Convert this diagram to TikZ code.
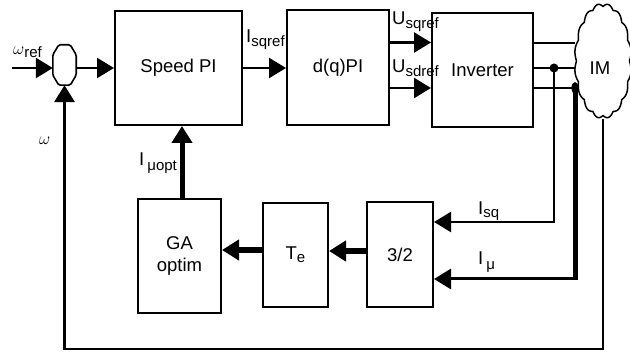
\documentclass[tikz,border=0pt]{standalone}
\usepackage{fontspec}
\setmainfont{Liberation Sans}
\usetikzlibrary{arrows.meta,calc}
\newcommand{\mysub}[2][-4pt]{\raisebox{#1}{\fontsize{15}{17}\selectfont #2}}
\tikzset{
  blk/.style={draw, line width=2pt, inner sep=0pt, align=center,
    font=\fontsize{18.5}{22}\selectfont},
  arr/.style={-{Triangle[length=17pt,width=20pt]}},
  lbl/.style={inner sep=0pt, anchor=base west, font=\fontsize{18.5}{20}\selectfont},
}
\begin{document}
\begin{tikzpicture}[x=1pt,y=-1pt]
\useasboundingbox (0,0) rectangle (630,352);
% blocks
\node[blk, minimum width=127pt, minimum height=114pt] (spi) at (178.5,68) {Speed PI};
\node[blk, minimum width=102pt, minimum height=115pt] (dq) at (338,67.5) {d(q)PI};
\node[blk, minimum width=101pt, minimum height=114pt] (inv) at (482.5,70) {Inverter};
\node[blk, minimum width=66pt, minimum height=105pt] (thr) at (400,254.5) {3/2};
\node[blk, minimum width=65pt, minimum height=104pt] (te) at (295.5,255) {T\mysub[-3pt]{e}};
\node[blk, minimum width=83pt, minimum height=114pt] (ga) at (179.5,256) {GA\\optim};
% motor
\node[minimum width=56pt, minimum height=115pt, inner sep=0pt] (im) at (603,61) {};
\draw[line width=1.5pt, line join=round]
  plot[domain=0:360, samples=361] ({603+(26.5+2*abs(sin(8*\x)))*cos(\x)},
                                   {61+(54.5+3*abs(sin(8*\x)))*sin(\x)}) -- cycle;
\node[inner sep=0pt, font=\fontsize{18.5}{20}\selectfont] (tim) at (600,68) {IM};
% summing junction
\node[minimum width=23pt, minimum height=40pt, inner sep=0pt] (sum) at (64.5,65) {};
\draw[line width=1.6pt, rounded corners=1.5pt]
  ($(sum.north west)+(6,0)$) -- ($(sum.north east)+(-6,0)$) -- ($(sum.north east)+(0,10)$)
  -- ($(sum.south east)+(0,-10)$) -- ($(sum.south east)+(-6,0)$) -- ($(sum.south west)+(6,0)$)
  -- ($(sum.south west)+(0,-10)$) -- ($(sum.north west)+(0,10)$) -- cycle;
% coordinates
\coordinate (in) at (12,68);
\coordinate (uq) at ($(dq.east)+(0,-25)$);
\coordinate (ud) at ($(dq.east)+(0,20.5)$);
\coordinate (l1) at ($(inv.east)+(0,-27)$);
\coordinate (l2) at ($(inv.east)+(0,-2)$);
\coordinate (l3) at ($(inv.east)+(0,18)$);
\coordinate (d1) at (554,68);
\coordinate (d2) at (575,88);
\coordinate (isq) at ($(thr.east)+(0,-32.5)$);
\coordinate (imu) at ($(thr.east)+(0,24.5)$);
\coordinate (c1) at ($(thr.west)+(0,-3.5)$);
\coordinate (c2) at ($(te.west)+(0,-5)$);
\coordinate (c3) at ($(ga.north)+(2.5,0)$);
\coordinate (fb) at (603,349);
% forward path
\draw[line width=2.5pt, arr] (in) -- (sum.west |- in);
\draw[line width=2.5pt, arr] (sum.east |- in) -- (spi.west |- in);
\draw[line width=2.5pt, arr] (spi.east |- in) -- (dq.west |- in);
\draw[line width=2.5pt, arr] (uq) -- (uq -| inv.west);
\draw[line width=2.5pt, arr] (ud) -- (ud -| inv.west);
\draw[line width=1.5pt] (l1) -- (l1 -| im.west);
\draw[line width=1.5pt] (l2) -- (l2 -| im.west);
\draw[line width=1.5pt] (l3) -- (l3 -| im.west);
% current measurements
\draw[line width=2.2pt, arr, line join=miter] (d1) -- (d1 |- isq) -- (isq);
\draw[line width=5pt] (d2) -- ($(d2 |- imu)+(0,1.5)$);
\draw[line width=3pt, arr] ($(d2 |- imu)+(2.5,0)$) -- (imu);
\fill (d1) circle (4.5pt);
\fill (d2) ellipse (3.5pt and 6pt);
% lower chain
\draw[line width=6pt, arr] (c1) -- (c1 -| te.east);
\draw[line width=6pt, arr] (c2) -- (c2 -| ga.east);
\draw[line width=5pt, arr] (c3) -- (c3 |- spi.south);
% speed feedback
\draw[line width=1.5pt] (im.south) -- (im.south |- fb);
\draw[line width=2.5pt] ($(im.south |- fb)+(0.75,0)$) -- (sum.south |- fb);
\draw[line width=3.5pt, arr] ($(sum.south |- fb)+(0,1.25)$) -- (sum.south);
% labels
\node[lbl] (tisqref) at (246,43) {I\mysub{sqref}};
\node[lbl] (tusq) at (392,25) {U\mysub{sqref}};
\node[lbl] (tusd) at (392,73) {U\mysub{sdref}};
\node[lbl] (tisq) at (478,215) {I\mysub[-3pt]{sq}};
\node[lbl] (timu) at (478,265) {I\,\mysub[-5pt]{μ}};
\node[lbl] (timuopt) at (139,166) {I\,\mysub[-5pt]{μopt}};
\node[inner sep=0pt, anchor=base west] (twref) at (13,55)
  {\fontsize{18}{20}\selectfont$\omega$\mysub[-3pt]{ref}};
\node[inner sep=0pt, anchor=base west] (tw) at (39,145) {\fontsize{18}{20}\selectfont$\omega$};
\end{tikzpicture}
\end{document}
